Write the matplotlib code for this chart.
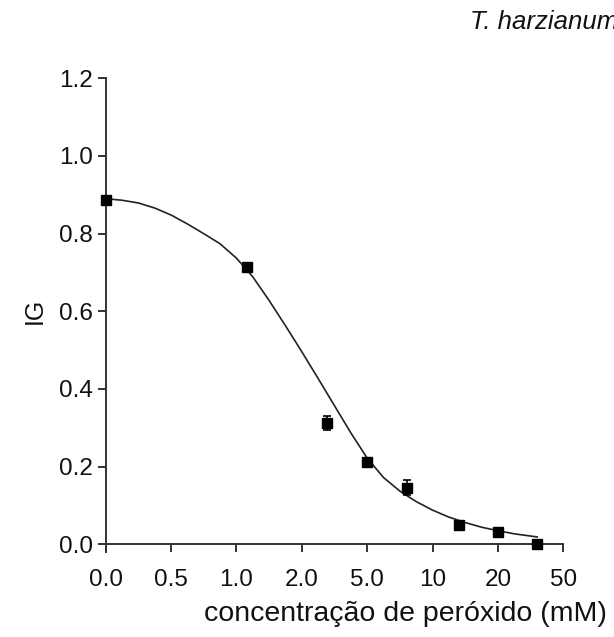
import matplotlib
matplotlib.use("Agg")
import matplotlib.pyplot as plt

plt.rcParams['font.family'] = ['Liberation Sans', 'DejaVu Sans']

# Tick labels of the (category-like, log-spaced) concentration axis
tick_labels = ["0.0", "0.5", "1.0", "2.0", "5.0", "10", "20", "50"]

# Data points: position along the axis (in tick units), IG mean and error
point_pos = [0.0, 2.16, 3.39, 4.0, 4.61, 5.40, 6.0, 6.60]
point_ig = [0.887, 0.714, 0.313, 0.213, 0.146, 0.051, 0.032, 0.0]
point_err = [0.008, 0.010, 0.018, 0.010, 0.020, 0.005, 0.005, 0.005]

# Fitted curve
curve_pos = [0.0, 0.25, 0.5, 0.75, 1.0, 1.25, 1.5, 1.75, 2.0, 2.25, 2.5, 2.75,
             3.0, 3.25, 3.5, 3.75, 4.0, 4.25, 4.5, 4.75, 5.0, 5.25, 5.5, 5.75,
             6.0, 6.25, 6.6]
curve_ig = [0.890, 0.886, 0.879, 0.866, 0.848, 0.825, 0.800, 0.774, 0.737, 0.689,
            0.628, 0.563, 0.496, 0.427, 0.357, 0.287, 0.222, 0.172, 0.137, 0.110,
            0.088, 0.070, 0.056, 0.044, 0.035, 0.027, 0.019]

fig = plt.figure(figsize=(6.14, 6.37), dpi=100)
ax = fig.add_axes([0.172, 0.1455, 0.7455, 0.7316])

ink = "#222222"
ax.plot(curve_pos, curve_ig, color=ink, lw=1.2, zorder=2, clip_on=False)
ax.errorbar(point_pos, point_ig, yerr=point_err, fmt='s', color='black',
            ms=6.5, elinewidth=1.2, capsize=3, capthick=1.2, zorder=3, clip_on=False)

ax.set_xlim(0, 7)
ax.set_ylim(0, 1.2)
ax.set_xticks(range(len(tick_labels)))
ax.set_xticklabels(tick_labels)
ax.set_yticks([0.0, 0.2, 0.4, 0.6, 0.8, 1.0, 1.2])
ax.set_yticklabels(["0.0", "0.2", "0.4", "0.6", "0.8", "1.0", "1.2"])

for s in ["top", "right"]:
    ax.spines[s].set_visible(False)
for s in ["left", "bottom"]:
    ax.spines[s].set_linewidth(1.4)
    ax.spines[s].set_color("#333333")
ax.spines["left"].set_bounds(-0.02, 1.2)

ax.tick_params(axis='both', direction='out', length=6, width=1.4, color="#333333",
               labelsize=17.5, labelcolor="#111111")
ax.tick_params(axis='x', pad=12)
ax.tick_params(axis='y', pad=3)

ax.set_xlabel("concentração de peróxido (mM)", fontsize=20.5, color="#111111")
ax.xaxis.set_label_coords(0.654, -0.122)
ax.set_ylabel("IG", fontsize=18, color="#111111", labelpad=9)

fig.text(470 / 614, 1 - 22 / 637, "T. harzianum", fontsize=18.5, style='italic',
         ha='left', va='center', color="#111111")

fig.savefig("out.png", dpi=100)
